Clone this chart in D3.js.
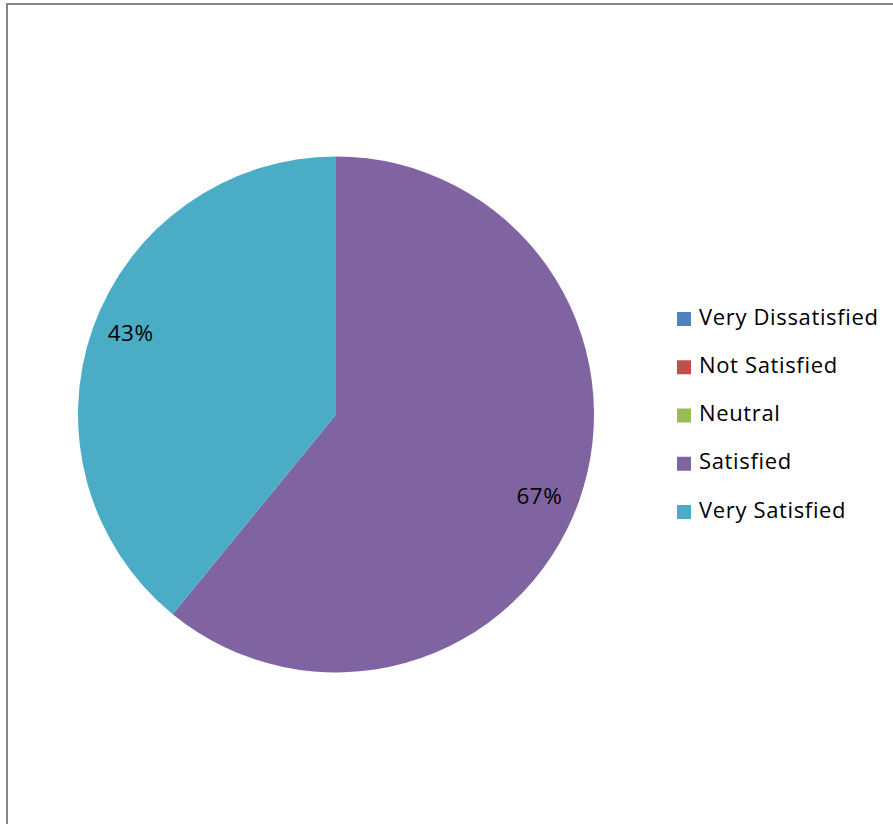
<!DOCTYPE html>
<html><head><meta charset="utf-8">
<script src="https://cdn.jsdelivr.net/npm/d3@7"></script>
<style>html,body{margin:0;padding:0;background:#fff;}svg{display:block;}</style>
</head><body>
<svg id="chart" width="893" height="824"></svg>
<script>
const categories = ["Very Dissatisfied", "Not Satisfied", "Neutral", "Satisfied", "Very Satisfied"];
const values = [0, 0, 0, 67, 43];
const labels = ["", "", "", "67%", "43%"];
const colors = ["#4F81BD", "#C0504D", "#9BBB59", "#8064A2", "#4BACC6"];

const svg = d3.select("#chart");
const font = "'Open Sans', 'Liberation Sans', sans-serif";

// frame
svg.append("rect").attr("x", 7).attr("y", 4).attr("width", 900).attr("height", 840)
  .attr("fill", "none").attr("stroke", "#868686").attr("stroke-width", 2);

const cx = 336, cy = 414.5, r = 258;
const data = categories.map((c, i) => ({cat: c, value: values[i], label: labels[i], color: colors[i]}));
const pie = d3.pie().sort(null).value(d => d.value);
const arcs = pie(data);
const arc = d3.arc().innerRadius(0).outerRadius(r);

const g = svg.append("g").attr("transform", `translate(${cx},${cy})`);
g.selectAll("path").data(arcs.filter(a => a.data.value > 0)).join("path")
  .attr("d", arc).attr("fill", d => d.data.color);

const labelR = r * 0.852, shift = 2 * Math.PI / 180;
g.selectAll("text.lbl").data(arcs.filter(a => a.data.value > 0)).join("text")
  .attr("class", "lbl")
  .attr("transform", d => {
    const a = (d.startAngle + d.endAngle) / 2 + shift;
    return `translate(${Math.sin(a) * labelR - 1},${-Math.cos(a) * labelR})`;
  })
  .attr("text-anchor", "middle").attr("dy", 8)
  .attr("font-family", font).attr("font-size", 22.5).attr("letter-spacing", 0.5).attr("fill", "#000")
  .text(d => d.data.label);

// legend
const legY = d3.scalePoint().domain(categories).range([319, 512]);
const leg = svg.append("g");
const items = leg.selectAll("g").data(data).join("g")
  .attr("transform", d => `translate(677,${legY(d.cat)})`);
items.append("rect").attr("x", 0).attr("y", -7).attr("width", 14).attr("height", 14)
  .attr("fill", d => d.color);
items.append("text").attr("x", 22).attr("y", 5.5)
  .attr("font-family", font).attr("font-size", 22).attr("letter-spacing", 0.65).attr("fill", "#000")
  .text(d => d.cat);
</script>
</body></html>
